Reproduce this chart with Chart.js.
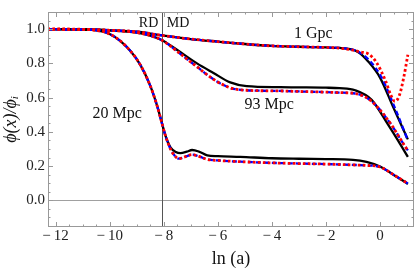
<!DOCTYPE html>
<html>
<head>
<meta charset="utf-8">
<script src="https://cdn.jsdelivr.net/npm/chart.js@4.4.1/dist/chart.umd.min.js"></script>
<style>
  html, body { margin: 0; padding: 0; background: #fff; }
  canvas { display: block; }
</style>
</head>
<body>
<canvas id="phiChart" width="415" height="271"></canvas>
<script>
// tick labels
const xTicks = [-12, -10, -8, -6, -4, -2, 0];
const yTicks = [0.0, 0.2, 0.4, 0.6, 0.8, 1.0];

// 1 Gpc
const gpcBlackX = [-12.3, -11, -10, -9, -8, -7, -6, -5, -4, -3, -2, -1.5, -1.1, -0.8, -0.43, 0, 0.5, 1.03];
const gpcBlackY = [1.0, 0.998, 0.993, 0.985, 0.962, 0.942, 0.927, 0.913, 0.902, 0.897, 0.893, 0.89, 0.883, 0.865, 0.81, 0.717, 0.54, 0.356];
const gpcBlueX = [-12.3, -11, -10, -9, -8, -7, -6, -5, -4, -3, -2, -1.5, -1.1, -0.8, -0.38, 0.05, 0.55, 1.03];
const gpcBlueY = [1.0, 0.998, 0.993, 0.985, 0.962, 0.942, 0.927, 0.913, 0.902, 0.897, 0.893, 0.89, 0.884, 0.868, 0.815, 0.72, 0.54, 0.35];
const gpcRedX = [-12.3, -11, -10, -9, -8, -7, -6, -5, -4, -3, -2, -1.5, -1, -0.7, -0.43, -0.15, 0.2, 0.4, 0.55, 0.72, 0.88, 1.03];
const gpcRedY = [1.0, 0.998, 0.993, 0.985, 0.962, 0.942, 0.927, 0.913, 0.902, 0.897, 0.893, 0.889, 0.877, 0.866, 0.855, 0.81, 0.7, 0.615, 0.578, 0.615, 0.72, 0.85];

// 93 Mpc
const mpc93BlackX = [-12.3, -11, -10, -9, -8.5, -8.06, -7.39, -6.77, -6.16, -5.54, -4.93, -3.7, -3, -2, -1.5, -0.92, -0.31, 0.31, 0.68, 1.03];
const mpc93BlackY = [1.0, 0.998, 0.993, 0.98, 0.962, 0.935, 0.866, 0.8, 0.744, 0.689, 0.667, 0.661, 0.66, 0.658, 0.655, 0.643, 0.587, 0.439, 0.346, 0.254];
const mpc93RedX = [-12.3, -11, -10, -9, -8.5, -8.06, -7.39, -6.77, -6.16, -5.54, -4.93, -3.7, -3, -2, -1.5, -0.92, -0.31, 0.43, 0.8, 1.03];
const mpc93RedY = [1.0, 0.998, 0.993, 0.98, 0.962, 0.935, 0.856, 0.78, 0.707, 0.657, 0.643, 0.639, 0.636, 0.632, 0.629, 0.624, 0.578, 0.439, 0.346, 0.29];
const mpc93BlueX = mpc93RedX;   // blue and red lie on top of each other
const mpc93BlueY = [1.0, 0.998, 0.993, 0.98, 0.962, 0.935, 0.856, 0.78, 0.707, 0.657, 0.643, 0.639, 0.636, 0.632, 0.629, 0.624, 0.578, 0.439, 0.346, 0.292];

// 20 Mpc
const mpc20BlackX = [-12.3, -11, -10.5, -10, -9.6, -9.23, -8.86, -8.5, -8.24, -8.06, -7.93, -7.75, -7.55, -7.38, -7.15, -6.95, -6.7, -6.39, -6, -5.17, -4, -3, -2, -1, -0.5, 0, 0.5, 1.03];
const mpc20BlackY = [1.0, 0.999, 0.993, 0.972, 0.93, 0.872, 0.79, 0.67, 0.55, 0.447, 0.375, 0.31, 0.282, 0.276, 0.284, 0.294, 0.285, 0.263, 0.258, 0.254, 0.246, 0.243, 0.241, 0.237, 0.225, 0.198, 0.15, 0.096];
const mpc20RedX = [-12.3, -11, -10.5, -10, -9.6, -9.23, -8.86, -8.5, -8.24, -8.06, -7.93, -7.75, -7.6, -7.44, -7.2, -6.95, -6.7, -6.39, -6, -5.17, -4, -3, -2, -1, -0.5, 0, 0.5, 1.03];
const mpc20RedY = [1.0, 0.999, 0.993, 0.972, 0.93, 0.872, 0.79, 0.67, 0.55, 0.447, 0.375, 0.3, 0.262, 0.244, 0.255, 0.267, 0.257, 0.239, 0.233, 0.226, 0.219, 0.215, 0.212, 0.207, 0.204, 0.195, 0.15, 0.098];
const mpc20BlueX = mpc20RedX;
const mpc20BlueY = mpc20RedY;

// annotations (data units)
const rdmdLine = -8.06;
const curveLabels = [
    { text: '1 Gpc', x: -2.47, y: 0.975, size: 16 },
    { text: '93 Mpc', x: -4.1, y: 0.558, size: 16 },
    { text: '20 Mpc', x: -9.72, y: 0.506, size: 16 },
    { text: 'RD', x: -8.56, y: 1.036, size: 14 },
    { text: 'MD', x: -7.47, y: 1.036, size: 14 }
];

const serif = "'Liberation Serif', 'DejaVu Serif', serif";

function pts(xs, ys) {
    return xs.map((x, i) => ({ x: x, y: ys[i] }));
}

function curve(xs, ys, kind) {
    const ds = {
        data: pts(xs, ys),
        pointRadius: 0,
        fill: false,
        cubicInterpolationMode: 'monotone'
    };
    if (kind === 'black') {
        ds.borderColor = '#000';
        ds.borderWidth = 2.3;
        ds.order = 2;
    } else if (kind === 'blue') {
        ds.borderColor = '#0000ff';
        ds.borderWidth = 2.3;
        ds.borderDash = [5, 3];
        ds.order = 1;
    } else {
        ds.borderColor = '#ff0000';
        ds.borderWidth = 2.8;
        ds.borderDash = [2.6, 2.4];
        ds.order = 0;
    }
    return ds;
}

// frame, inward ticks, reference lines and texts
const framePlugin = {
    id: 'frame',
    beforeDatasetsDraw(chart) {
        const { ctx, chartArea: a, scales: { x, y } } = chart;
        ctx.save();
        ctx.lineWidth = 1;
        ctx.strokeStyle = '#a0a0a0';
        const y0 = Math.round(y.getPixelForValue(0)) + 0.5;
        ctx.beginPath();
        ctx.moveTo(a.left, y0);
        ctx.lineTo(a.right, y0);
        ctx.stroke();
        ctx.strokeStyle = '#555';
        const xv = Math.round(x.getPixelForValue(rdmdLine)) + 0.5;
        ctx.beginPath();
        ctx.moveTo(xv, a.top);
        ctx.lineTo(xv, a.bottom);
        ctx.stroke();
        ctx.restore();
    },
    afterDatasetsDraw(chart) {
        const { ctx, chartArea: a, scales: { x, y } } = chart;
        ctx.save();
        ctx.lineWidth = 1;
        ctx.strokeStyle = '#999';
        ctx.strokeRect(a.left + 0.5, a.top + 0.5, a.right - a.left - 1, a.bottom - a.top - 1);

        ctx.beginPath();
        for (let v = -12; v <= 1.001; v += 0.5) {
            const major = Math.abs(v / 2 - Math.round(v / 2)) < 1e-6;
            const len = major ? 5 : 2.5;
            const px = Math.round(x.getPixelForValue(v)) + 0.5;
            ctx.moveTo(px, a.bottom);
            ctx.lineTo(px, a.bottom - len);
            ctx.moveTo(px, a.top);
            ctx.lineTo(px, a.top + len);
        }
        for (let i = -3; i <= 21; i++) {
            const v = i * 0.05;
            const major = i % 4 === 0;
            const len = major ? 5 : 2.5;
            const py = Math.round(y.getPixelForValue(v)) + 0.5;
            ctx.moveTo(a.left, py);
            ctx.lineTo(a.left + len, py);
            ctx.moveTo(a.right, py);
            ctx.lineTo(a.right - len, py);
        }
        ctx.stroke();

        // curve labels
        ctx.fillStyle = '#111';
        ctx.textAlign = 'center';
        ctx.textBaseline = 'middle';
        curveLabels.forEach(l => {
            ctx.font = l.size + 'px ' + serif;
            ctx.fillText(l.text, x.getPixelForValue(l.x), y.getPixelForValue(l.y));
        });

        // axis titles
        ctx.font = '18px ' + serif;
        ctx.fillText('ln (a)', (a.left + a.right) / 2, 259);

        ctx.translate(11, (a.top + a.bottom) / 2);
        ctx.rotate(-Math.PI / 2);
        ctx.font = 'italic 18px ' + serif;
        const main = '\u03D5(x)/\u03D5';
        const wMain = ctx.measureText(main).width;
        ctx.font = 'italic 11px ' + serif;
        const wSub = ctx.measureText('i').width;
        const start = -(wMain + wSub) / 2;
        ctx.textAlign = 'left';
        ctx.font = 'italic 18px ' + serif;
        ctx.fillText(main, start, 0);
        ctx.font = 'italic 11px ' + serif;
        ctx.fillText('i', start + wMain, 4);
        ctx.restore();
    }
};

new Chart(document.getElementById('phiChart'), {
    type: 'line',
    data: {
        datasets: [
            curve(gpcBlackX, gpcBlackY, 'black'),
            curve(mpc93BlackX, mpc93BlackY, 'black'),
            curve(mpc20BlackX, mpc20BlackY, 'black'),
            curve(gpcBlueX, gpcBlueY, 'blue'),
            curve(mpc93BlueX, mpc93BlueY, 'blue'),
            curve(mpc20BlueX, mpc20BlueY, 'blue'),
            curve(gpcRedX, gpcRedY, 'red'),
            curve(mpc93RedX, mpc93RedY, 'red'),
            curve(mpc20RedX, mpc20RedY, 'red')
        ]
    },
    options: {
        responsive: false,
        animation: false,
        devicePixelRatio: 1,
        layout: { padding: { top: 1, right: 1, left: 0, bottom: 0 } },
        plugins: { legend: { display: false }, tooltip: { enabled: false } },
        scales: {
            x: {
                type: 'linear',
                min: -12.28,
                max: 1.257,
                afterFit: s => { s.height = 44; },
                afterBuildTicks: s => { s.ticks = xTicks.map(v => ({ value: v })); },
                grid: { display: false, drawTicks: false },
                border: { display: false },
                ticks: {
                    autoSkip: false,
                    maxRotation: 0,
                    padding: 0,
                    color: '#222',
                    font: { family: serif, size: 15 },
                    callback: v => v < 0 ? '\u2212\u2009' + Math.abs(v) : String(v)
                }
            },
            y: {
                type: 'linear',
                min: -0.1556,
                max: 1.1,
                afterFit: s => { s.width = 48; },
                afterBuildTicks: s => { s.ticks = yTicks.map(v => ({ value: v })); },
                grid: { display: false, drawTicks: false },
                border: { display: false },
                ticks: {
                    autoSkip: false,
                    padding: 3,
                    color: '#222',
                    font: { family: serif, size: 15 },
                    callback: v => Number(v).toFixed(1)
                }
            }
        }
    },
    plugins: [framePlugin]
});
</script>
</body>
</html>
